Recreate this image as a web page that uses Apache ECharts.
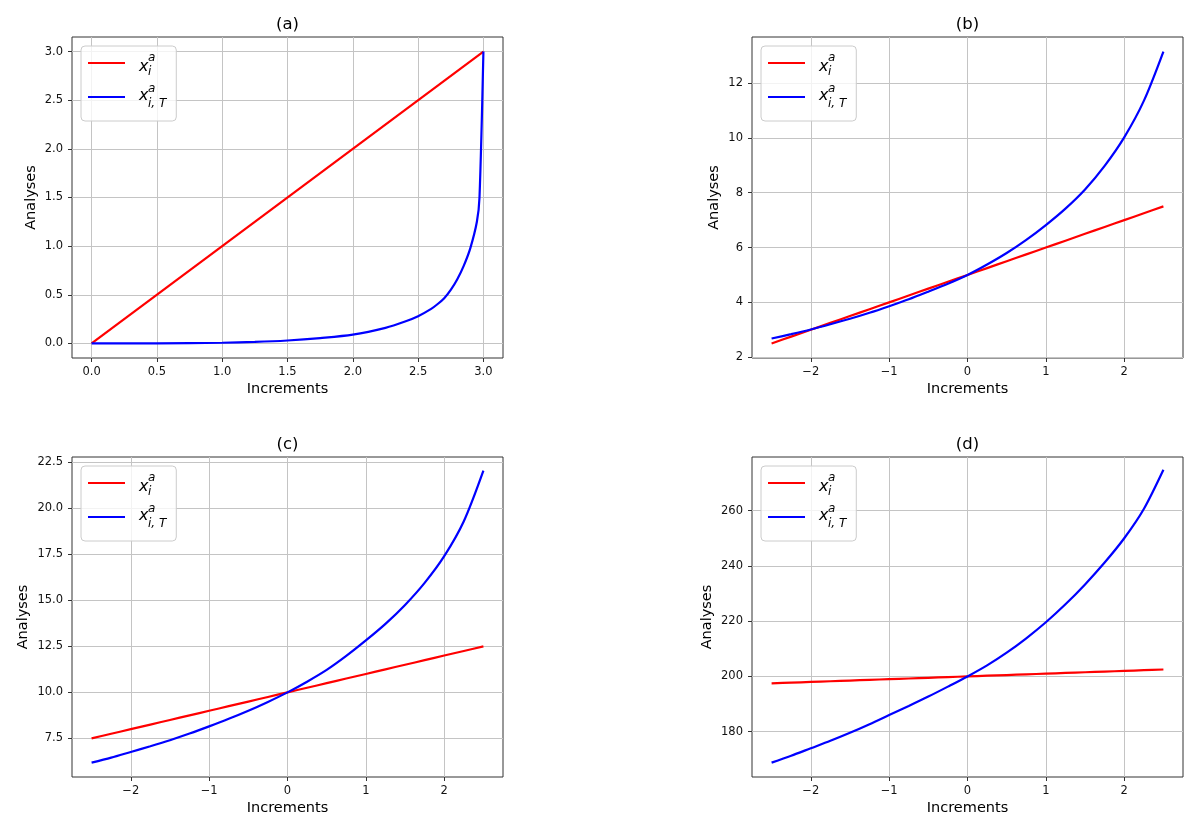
<!DOCTYPE html>
<html>
<head>
<meta charset="utf-8">
<title>Analyses vs Increments</title>
<script src="https://cdn.jsdelivr.net/npm/echarts@6/dist/echarts.min.js"></script>
<style>
  html, body { margin: 0; padding: 0; background: #fff; }
  #chart { width: 1200px; height: 830px; }
</style>
</head>
<body>
<div id="chart"></div>
<script>
// ---- data ----
// (a)
const aRedX = [0, 3.0]
const aRed = [0, 3.0]
const aBlueX = [0, 0.5, 1.0, 1.25, 1.5, 1.75, 2.0, 2.25, 2.4, 2.5, 2.6, 2.65, 2.7, 2.75, 2.8, 2.85, 2.9, 2.95, 2.97, 3.0]
const aBlue = [0, 0.001, 0.007, 0.015, 0.03, 0.055, 0.09, 0.16, 0.225, 0.28, 0.355, 0.405, 0.465, 0.55, 0.66, 0.8, 0.98, 1.25, 1.5, 3.0]

// (b), (c), (d) share the same increments
const incX = [-2.5, -2.25, -2.0, -1.75, -1.5, -1.25, -1.0, -0.75, -0.5, -0.25, 0, 0.25, 0.5, 0.75, 1.0, 1.25, 1.5, 1.75, 2.0, 2.25, 2.5]
const bRed = [2.5, 2.75, 3.0, 3.25, 3.5, 3.75, 4.0, 4.25, 4.5, 4.75, 5.0, 5.25, 5.5, 5.75, 6.0, 6.25, 6.5, 6.75, 7.0, 7.25, 7.5]
const bBlue = [2.68, 2.84, 3.01, 3.2, 3.4, 3.62, 3.86, 4.11, 4.39, 4.68, 5.0, 5.38, 5.8, 6.28, 6.82, 7.42, 8.12, 8.98, 10.02, 11.35, 13.15]
const cRed = [7.5, 7.75, 8.0, 8.25, 8.5, 8.75, 9.0, 9.25, 9.5, 9.75, 10.0, 10.25, 10.5, 10.75, 11.0, 11.25, 11.5, 11.75, 12.0, 12.25, 12.5]
const cBlue = [6.18, 6.45, 6.76, 7.07, 7.4, 7.76, 8.15, 8.56, 9.0, 9.48, 10.0, 10.58, 11.22, 11.98, 12.82, 13.72, 14.75, 15.95, 17.4, 19.3, 22.05]
const dRed = [197.5, 197.75, 198.0, 198.25, 198.5, 198.75, 199.0, 199.25, 199.5, 199.75, 200.0, 200.25, 200.5, 200.75, 201.0, 201.25, 201.5, 201.75, 202.0, 202.25, 202.5]
const dBlue = [168.8, 171.3, 174.0, 176.7, 179.6, 182.7, 186.0, 189.3, 192.7, 196.3, 200.0, 204.0, 208.6, 213.8, 219.6, 226.1, 233.3, 241.2, 250.0, 260.6, 274.8]

// tick labels
const aTicks = [0, 0.5, 1.0, 1.5, 2.0, 2.5, 3.0]
const incTicks = [-2, -1, 0, 1, 2]
const bYTicks = [2, 4, 6, 8, 10, 12]
const cYTicks = [7.5, 10, 12.5, 15, 17.5, 20, 22.5]
const dYTicks = [180, 200, 220, 240, 260]

const titles = ['(a)', '(b)', '(c)', '(d)']

// ---- layout / style ----
const FONT = 'DejaVu Sans'
const RED = '#ff0000'
const BLUE = '#0000ff'
const GRID_W = 431
const boxes = [
  { left: 72, top: 37, height: 321 },
  { left: 752, top: 37, height: 321 },
  { left: 72, top: 457, height: 320 },
  { left: 752, top: 457, height: 320 }
]

const oneDec = v => v.toFixed(1)
const minus = v => (v < 0 ? '\u2212' + Math.abs(v) : String(v))

const panels = [
  { xMin: -0.15, xMax: 3.15, xTicks: aTicks, xFmt: oneDec, yMin: -0.15, yMax: 3.15, yTicks: aTicks, yFmt: oneDec, yGap: 33,
    red: [aRedX, aRed], blue: [aBlueX, aBlue] },
  { xMin: -2.75, xMax: 2.75, xTicks: incTicks, xFmt: minus, yMin: 1.97, yMax: 13.68, yTicks: bYTicks, yFmt: String, yGap: 30,
    red: [incX, bRed], blue: [incX, bBlue] },
  { xMin: -2.75, xMax: 2.75, xTicks: incTicks, xFmt: minus, yMin: 5.4, yMax: 22.79, yTicks: cYTicks, yFmt: oneDec, yGap: 41,
    red: [incX, cRed], blue: [incX, cBlue] },
  { xMin: -2.75, xMax: 2.75, xTicks: incTicks, xFmt: minus, yMin: 163.6, yMax: 279.4, yTicks: dYTicks, yFmt: String, yGap: 37,
    red: [incX, dRed], blue: [incX, dBlue] }
]

function pairs(xs, ys) {
  return xs.map((x, i) => [x, ys[i]])
}

function axis(i, min, max, ticks, fmt, name, gap, margin) {
  return {
    type: 'value',
    gridIndex: i,
    min, max,
    name,
    nameLocation: 'middle',
    nameGap: gap,
    nameTextStyle: { fontFamily: FONT, fontSize: 14.5, color: '#000' },
    axisLine: { show: false, onZero: false },
    axisTick: { show: true, length: 4, customValues: ticks, lineStyle: { color: '#333', width: 1 } },
    axisLabel: { customValues: ticks, formatter: fmt, margin, fontFamily: FONT, fontSize: 11.5, color: '#111' },
    splitLine: { show: true, lineStyle: { color: '#c4c4c4', width: 1 } }
  }
}

function line(name, i, xs, ys, color, z) {
  return {
    name, type: 'line', xAxisIndex: i, yAxisIndex: i,
    data: pairs(xs, ys),
    symbol: 'none', smooth: 0.3,
    lineStyle: { color, width: 2.2 }, itemStyle: { color }, z
  }
}

// math-like legend labels: x with stacked superscript / subscript
const mathText = { fontFamily: FONT, fontStyle: 'italic', color: '#000' }
const legendRich = {
  x1: { ...mathText, fontSize: 16, lineHeight: 30, width: 9, padding: [8, 0, 0, 9] },
  sup1: { ...mathText, fontSize: 12, lineHeight: 17, width: 0, align: 'left', verticalAlign: 'top', padding: [3.5, 0, 0, 0] },
  sub1: { ...mathText, fontSize: 12, lineHeight: 17, verticalAlign: 'bottom', padding: [0, 0, 0, 0] },
  x2: { ...mathText, fontSize: 16, lineHeight: 30, width: 9, padding: [0, 0, 2, 9] },
  sup2: { ...mathText, fontSize: 12, lineHeight: 17, width: 0, align: 'left', verticalAlign: 'top', padding: [0.5, 0, 0, 0] },
  sub2: { ...mathText, fontSize: 12, lineHeight: 17, verticalAlign: 'bottom', padding: [0, 0, 2, 0] }
}

function buildOption() {
  const grid = [], xAxis = [], yAxis = [], series = [], legend = [], title = []
  panels.forEach((p, i) => {
    const b = boxes[i]
    grid.push({ left: b.left, top: b.top, width: GRID_W, height: b.height, show: true,
      borderColor: '#333', borderWidth: 1, backgroundColor: 'transparent', outerBoundsMode: 'none' })
    xAxis.push(axis(i, p.xMin, p.xMax, p.xTicks, p.xFmt, 'Increments', 24, 8))
    yAxis.push(axis(i, p.yMin, p.yMax, p.yTicks, p.yFmt, 'Analyses', p.yGap, 9))
    const redName = 'xa-' + i
    const blueName = 'xaT-' + i
    series.push(line(redName, i, p.red[0], p.red[1], RED, 3))
    series.push(line(blueName, i, p.blue[0], p.blue[1], BLUE, 4))
    legend.push({
      data: [redName, blueName],
      orient: 'vertical',
      left: b.left + 9,
      top: b.top + 9,
      padding: [2, 10, 9, 7],
      itemGap: 4,
      itemWidth: 37,
      itemHeight: 2.2,
      icon: 'rect',
      selectedMode: false,
      backgroundColor: 'rgba(255,255,255,0.8)',
      borderColor: '#cccccc',
      borderWidth: 1,
      borderRadius: 4,
      formatter: n => (n.startsWith('xaT') ? '{x2|x}{sup2|a}{sub2|i, T}' : '{x1|x}{sup1|a}{sub1|i}'),
      textStyle: { rich: legendRich }
    })
    title.push({ text: titles[i], left: b.left + GRID_W / 2, top: b.top - 21, textAlign: 'center', padding: 0,
      textStyle: { fontFamily: FONT, fontSize: 16.5, fontWeight: 'normal', color: '#000' } })
  })
  return { animation: false, backgroundColor: '#fff', title, legend, grid, xAxis, yAxis, series }
}

const chart = echarts.init(document.getElementById('chart'), null, { renderer: 'canvas' })
chart.setOption(buildOption())
</script>
</body>
</html>
